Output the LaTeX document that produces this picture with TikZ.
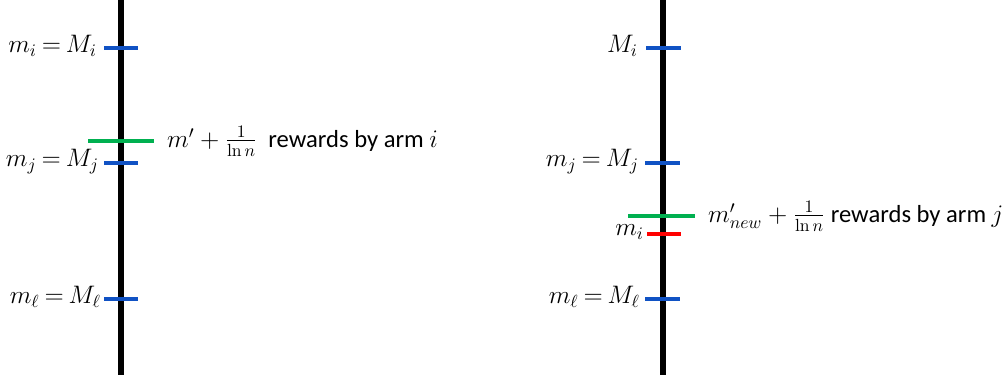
\documentclass[tikz,border=0pt]{standalone}
\usepackage{amsmath}
\usepackage[no-math]{fontspec}
\setmainfont{Carlito}
\usetikzlibrary{positioning}

\definecolor{tickblue}{RGB}{16,82,196}
\definecolor{tickgreen}{RGB}{0,176,80}
\definecolor{tickred}{RGB}{255,0,0}
\thickmuskip=3.5mu plus 2mu\relax

\begin{document}
\begin{tikzpicture}[
  x=0.02cm, y=-0.02cm,
  axis/.style={line width=2.9pt, black},
  bluetick/.style={line width=2.2pt, tickblue},
  greentick/.style={line width=2.2pt, tickgreen},
  redtick/.style={line width=2.2pt, tickred},
  lab/.style={font=\fontsize{14}{17}\selectfont, inner sep=1pt}
]
  \useasboundingbox (0,0) rectangle (1003,375);

  % left axis
  \coordinate (L-top) at (121,0);
  \coordinate (L-bot) at (121,375);
  \draw[axis] (L-top) -- (L-bot);

  \coordinate (Li-w) at (104,48);  \coordinate (Li-e) at (138,48);
  \coordinate (Lg-w) at (88,141);  \coordinate (Lg-e) at (154,141);
  \coordinate (Lj-w) at (104,163); \coordinate (Lj-e) at (138,163);
  \coordinate (Ll-w) at (104,299); \coordinate (Ll-e) at (138,299);
  \draw[bluetick] (Li-w) -- (Li-e);
  \draw[greentick] (Lg-w) -- (Lg-e);
  \draw[bluetick] (Lj-w) -- (Lj-e);
  \draw[bluetick] (Ll-w) -- (Ll-e);

  \node[lab, left=0.1cm of Li-w, yshift=1pt] (lab-Li) {$m_i = M_i$};
  \node[lab, left=0.06cm of Lj-w, yshift=1pt] (lab-Lj) {$m_j = M_j$};
  \node[lab, left=0.02cm of Ll-w, yshift=1pt] (lab-Ll) {$m_\ell = M_\ell$};
  \node[lab, right=0.22cm of Lg-e] (lab-Lg) {$m' + \frac{1}{\ln n}$~ rewards by arm $i$};

  % right axis
  \coordinate (R-top) at (663,0);
  \coordinate (R-bot) at (663,375);
  \draw[axis] (R-top) -- (R-bot);

  \coordinate (Ri-w) at (646,48);  \coordinate (Ri-e) at (681,48);
  \coordinate (Rj-w) at (645,163); \coordinate (Rj-e) at (680,163);
  \coordinate (Rg-w) at (628,216); \coordinate (Rg-e) at (695,216);
  \coordinate (Rr-w) at (647,234); \coordinate (Rr-e) at (681,234);
  \coordinate (Rl-w) at (645,299); \coordinate (Rl-e) at (680,299);
  \draw[bluetick] (Ri-w) -- (Ri-e);
  \draw[bluetick] (Rj-w) -- (Rj-e);
  \draw[greentick] (Rg-w) -- (Rg-e);
  \draw[redtick] (Rr-w) -- (Rr-e);
  \draw[bluetick] (Rl-w) -- (Rl-e);

  \node[lab, left=0.12cm of Ri-w, yshift=1pt] (lab-Ri) {$M_i$};
  \node[lab, left=0.08cm of Rj-w, yshift=1pt] (lab-Rj) {$m_j = M_j$};
  \node[lab, left=0.02cm of Rr-w, yshift=1pt] (lab-Rr) {$m_i$};
  \node[lab, left=0.06cm of Rl-w, yshift=1pt] (lab-Rl) {$m_\ell = M_\ell$};
  \node[lab, right=0.22cm of Rg-e] (lab-Rg) {$m'_{new} + \frac{1}{\ln n}$ rewards by arm $j$};
\end{tikzpicture}
\end{document}
